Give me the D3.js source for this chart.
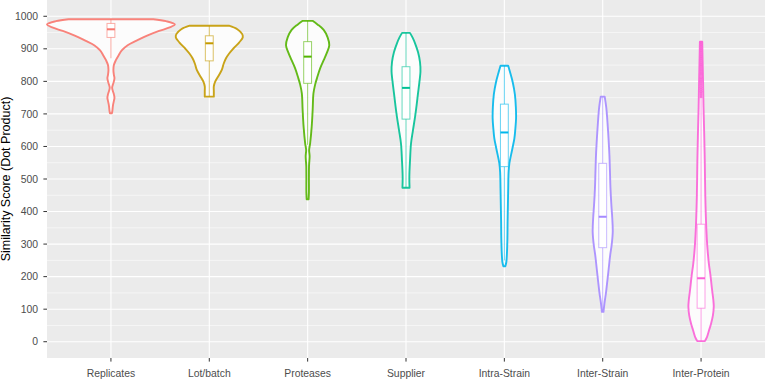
<!DOCTYPE html>
<html lang="en">
<head>
    <meta charset="UTF-8">
    <title>Similarity Score violins</title>
    <style>
        body {
            margin: 0;
            background: #ffffff;
            font-family: "Liberation Sans", Arial, sans-serif;
        }

        .grid-major {
            stroke: #ffffff;
            stroke-width: 1.1;
        }

        .grid-minor {
            stroke: #ffffff;
            stroke-width: 0.55;
        }

        .tick-label {
            fill: #4d4d4d;
            font-size: 10.4px;
        }

        .axis-title {
            fill: #000000;
            font-size: 12.5px;
        }
    </style>
</head>
<body>
    <svg id="chart" width="765" height="379"></svg>

    <script src="https://d3js.org/d3.v7.min.js"></script>
    <script>
        // categories and colours (ggplot default hue palette)
        const categories = ["Replicates", "Lot/batch", "Proteases", "Supplier", "Intra-Strain", "Inter-Strain", "Inter-Protein"];
        const colors = ["#F8766D", "#C49A00", "#53B400", "#00C094", "#00B6EB", "#A58AFF", "#FB61D7"];

        const yTicks = [0, 100, 200, 300, 400, 500, 600, 700, 800, 900, 1000];
        const yMinor = [50, 150, 250, 350, 450, 550, 650, 750, 850, 950];

        // violin outlines: [score, half width in category units]
        const violinReplicates = [[991, 0.43], [985, 0.56], [975, 0.65], [965, 0.59], [955, 0.49], [942, 0.38], [925, 0.26], [911, 0.17], [895, 0.11], [881, 0.08], [865, 0.05], [850, 0.03], [835, 0.025], [820, 0.03], [810, 0.036], [800, 0.03], [790, 0.02], [780, 0.012], [770, 0.02], [760, 0.03], [750, 0.036], [740, 0.03], [725, 0.02], [710, 0.015], [702, 0.01]];
        const violinLot = [[971, 0.20], [960, 0.285], [945, 0.335], [935, 0.34], [920, 0.305], [901, 0.245], [885, 0.20], [871, 0.17], [855, 0.147], [835, 0.127], [815, 0.09], [799, 0.06], [785, 0.046], [770, 0.046], [753, 0.046]];
        const violinProteases = [[986, 0.05], [975, 0.10], [958, 0.163], [935, 0.203], [911, 0.22], [890, 0.198], [865, 0.163], [840, 0.127], [814, 0.099], [790, 0.076], [763, 0.059], [712, 0.051], [660, 0.041], [609, 0.025], [589, 0.015], [570, 0.02], [540, 0.014], [500, 0.013], [460, 0.013], [438, 0.01]];
        const violinSupplier = [[949, 0.04], [935, 0.066], [917, 0.092], [890, 0.122], [860, 0.142], [830, 0.147], [800, 0.137], [763, 0.122], [725, 0.107], [691, 0.092], [650, 0.071], [609, 0.051], [558, 0.041], [507, 0.034], [473, 0.036]];
        const violinIntra = [[848, 0.039], [825, 0.061], [799, 0.084], [760, 0.107], [720, 0.117], [686, 0.119], [655, 0.112], [625, 0.102], [600, 0.086], [574, 0.068], [548, 0.051], [522, 0.043], [470, 0.039], [420, 0.036], [370, 0.033], [318, 0.031], [270, 0.026], [245, 0.02], [232, 0.01]];
        const violinInterStrain = [[753, 0.02], [720, 0.036], [676, 0.048], [625, 0.059], [574, 0.068], [520, 0.074], [471, 0.079], [420, 0.088], [380, 0.097], [338, 0.102], [300, 0.092], [266, 0.076], [225, 0.061], [184, 0.046], [150, 0.033], [123, 0.02], [92, 0.008]];
        const violinInterProtein = [[922, 0.012], [860, 0.016], [804, 0.02], [720, 0.025], [650, 0.031], [548, 0.038], [445, 0.043], [343, 0.054], [290, 0.064], [241, 0.079], [200, 0.097], [159, 0.112], [130, 0.124], [108, 0.129], [80, 0.12], [56, 0.102], [35, 0.081], [15, 0.061], [2, 0.039]];
        const violins = [violinReplicates, violinLot, violinProteases, violinSupplier, violinIntra, violinInterStrain, violinInterProtein];

        // boxplot stats: [lower whisker, Q1, median, Q3, upper whisker]
        const boxStats = [
            [871, 935, 960, 978, 991],
            [753, 863, 917, 940, 971],
            [605, 794, 876, 922, 986],
            [473, 684, 780, 845, 949],
            [250, 538, 643, 730, 848],
            [92, 289, 384, 548, 753],
            [2, 103, 195, 361, 746]
        ];

        // boxplot outliers (only visible above the Inter-Protein whisker)
        const outliers = [
            [],
            [],
            [],
            [],
            [],
            [],
            [752, 758, 764, 770, 776, 782, 789, 795, 801, 807, 813, 820, 826, 832, 838, 845, 851, 857, 864, 870, 876, 882, 889, 895, 901, 908, 914, 920]
        ];

        const width = 765;
        const height = 379;
        const margin = { top: 0, right: 0, bottom: 21, left: 47 };
        const boxHalf = 0.04;

        const svg = d3.select("#chart");

        const x = d3.scaleLinear()
            .domain([0.35, categories.length + 0.65])
            .range([margin.left, width - margin.right]);

        const y = d3.scaleLinear()
            .domain([-50, 1050])
            .range([height - margin.bottom, margin.top]);

        // panel background
        svg.append("rect")
            .attr("x", margin.left)
            .attr("y", margin.top)
            .attr("width", width - margin.right - margin.left)
            .attr("height", height - margin.bottom - margin.top)
            .attr("fill", "#ebebeb");

        // grid
        svg.selectAll(".grid-minor")
            .data(yMinor)
            .join("line")
            .attr("class", "grid-minor")
            .attr("x1", margin.left)
            .attr("x2", width - margin.right)
            .attr("y1", d => y(d))
            .attr("y2", d => y(d));

        svg.selectAll(".grid-major-y")
            .data(yTicks)
            .join("line")
            .attr("class", "grid-major grid-major-y")
            .attr("x1", margin.left)
            .attr("x2", width - margin.right)
            .attr("y1", d => y(d))
            .attr("y2", d => y(d));

        svg.selectAll(".grid-major-x")
            .data(categories)
            .join("line")
            .attr("class", "grid-major grid-major-x")
            .attr("x1", (d, i) => x(i + 1))
            .attr("x2", (d, i) => x(i + 1))
            .attr("y1", margin.top)
            .attr("y2", height - margin.bottom);

        // violins
        const area = d3.area()
            .curve(d3.curveCatmullRom)
            .y(d => y(d[0]));

        violins.forEach((pts, i) => {
            const c = i + 1;
            area.x0(d => x(c - d[1])).x1(d => x(c + d[1]));
            svg.append("path")
                .attr("d", area(pts))
                .attr("fill", "#fcfcfc")
                .attr("stroke", colors[i])
                .attr("stroke-width", 1.9)
                .attr("stroke-opacity", 0.9)
                .attr("stroke-linejoin", "round");
        });

        // boxplots
        boxStats.forEach((s, i) => {
            const c = i + 1;
            const g = svg.append("g")
                .attr("stroke", colors[i]);

            g.append("line")
                .attr("x1", x(c)).attr("x2", x(c))
                .attr("y1", y(s[4])).attr("y2", y(s[3]))
                .attr("stroke-opacity", 0.6);
            g.append("line")
                .attr("x1", x(c)).attr("x2", x(c))
                .attr("y1", y(s[1])).attr("y2", y(s[0]))
                .attr("stroke-opacity", 0.6);

            g.append("rect")
                .attr("x", x(c - boxHalf))
                .attr("y", y(s[3]))
                .attr("width", x(c + boxHalf) - x(c - boxHalf))
                .attr("height", y(s[1]) - y(s[3]))
                .attr("fill", "#ffffff")
                .attr("stroke-opacity", 0.6);

            g.append("line")
                .attr("x1", x(c - boxHalf)).attr("x2", x(c + boxHalf))
                .attr("y1", y(s[2])).attr("y2", y(s[2]))
                .attr("stroke-width", 2);

            g.selectAll("circle")
                .data(outliers[i])
                .join("circle")
                .attr("cx", x(c))
                .attr("cy", d => y(d))
                .attr("r", 1.5)
                .attr("fill", colors[i])
                .attr("fill-opacity", 0.85)
                .attr("stroke", "none");
        });

        // y axis
        svg.selectAll(".ytick")
            .data(yTicks)
            .join("line")
            .attr("class", "ytick")
            .attr("x1", margin.left - 3.6)
            .attr("x2", margin.left)
            .attr("y1", d => y(d))
            .attr("y2", d => y(d))
            .attr("stroke", "#333333");

        svg.selectAll(".ylabel")
            .data(yTicks)
            .join("text")
            .attr("class", "tick-label ylabel")
            .attr("x", margin.left - 9)
            .attr("y", d => y(d))
            .attr("dy", "0.35em")
            .attr("text-anchor", "end")
            .text(d => d);

        // x axis
        svg.selectAll(".xtick")
            .data(categories)
            .join("line")
            .attr("class", "xtick")
            .attr("x1", (d, i) => x(i + 1))
            .attr("x2", (d, i) => x(i + 1))
            .attr("y1", height - margin.bottom)
            .attr("y2", height - margin.bottom + 3.6)
            .attr("stroke", "#333333");

        svg.selectAll(".xlabel")
            .data(categories)
            .join("text")
            .attr("class", "tick-label xlabel")
            .attr("x", (d, i) => x(i + 1))
            .attr("y", height - margin.bottom + 18.5)
            .attr("text-anchor", "middle")
            .text(d => d);

        svg.append("text")
            .attr("class", "axis-title")
            .attr("transform", `translate(10,${(margin.top + height - margin.bottom) / 2}) rotate(-90)`)
            .attr("text-anchor", "middle")
            .text("Similarity Score (Dot Product)");
    </script>
</body>
</html>
